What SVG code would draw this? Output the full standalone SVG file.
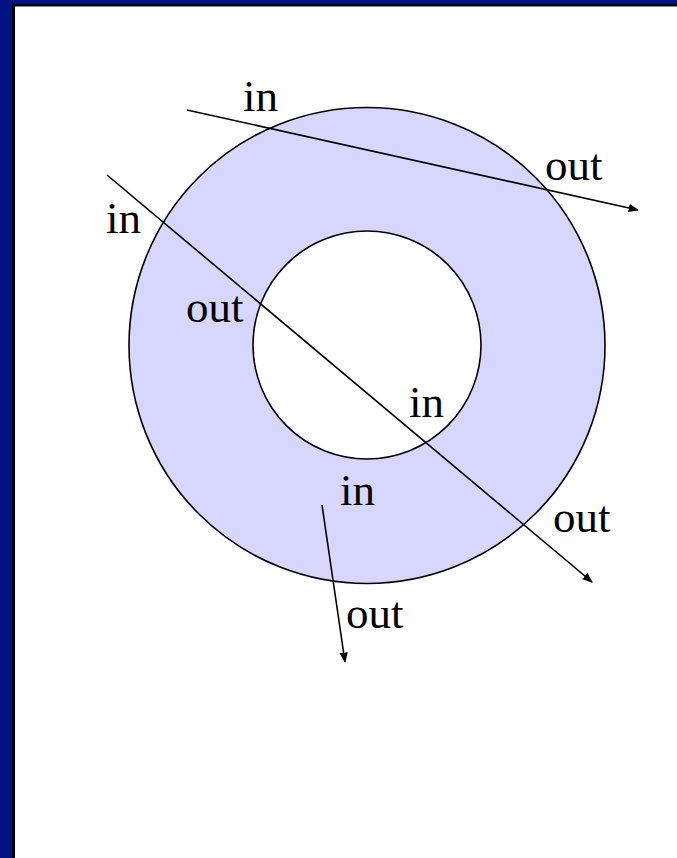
<svg xmlns="http://www.w3.org/2000/svg" width="677" height="858" viewBox="0 0 677 858">
<style>
.t{font-family:"Liberation Serif","Times New Roman",serif;font-size:45px;fill:#000}
.c{stroke:#000;stroke-width:1.6}
.l{stroke:#000;stroke-width:1.6;fill:none;marker-end:url(#ah)}
</style>
<defs>
<marker id="ah" viewBox="0 0 10 10" refX="9" refY="5" markerWidth="6.5" markerHeight="6.5" orient="auto" markerUnits="strokeWidth"><path d="M0,1 L10,5 L0,9 z" fill="#000"/></marker>
</defs>
<rect width="677" height="858" fill="#fff"/>
<rect x="0" y="0" width="677" height="4" fill="#001283"/>
<rect x="0" y="0" width="12" height="858" fill="#001283"/>
<rect x="12" y="4" width="665" height="2.5" fill="#000"/>
<rect x="12" y="4" width="3" height="854" fill="#000"/>
<g id="ring">
<circle class="c" cx="367" cy="345.5" r="238" fill="#D6D6FF"/>
<circle class="c" cx="367" cy="345" r="114" fill="#fff"/>
</g>
<g id="connectors">
<line class="l" x1="187" y1="110" x2="638" y2="210"/>
<line class="l" x1="107" y1="175" x2="592" y2="582"/>
<line class="l" x1="322" y1="505" x2="345" y2="662"/>
</g>
<g id="labels">
<text class="t" x="243" y="111">in</text>
<text class="t" x="545" y="180">out</text>
<text class="t" x="106" y="233">in</text>
<text class="t" x="186" y="322">out</text>
<text class="t" x="409" y="417">in</text>
<text class="t" x="340" y="505">in</text>
<text class="t" x="553" y="532">out</text>
<text class="t" x="346" y="628">out</text>
</g>
</svg>
